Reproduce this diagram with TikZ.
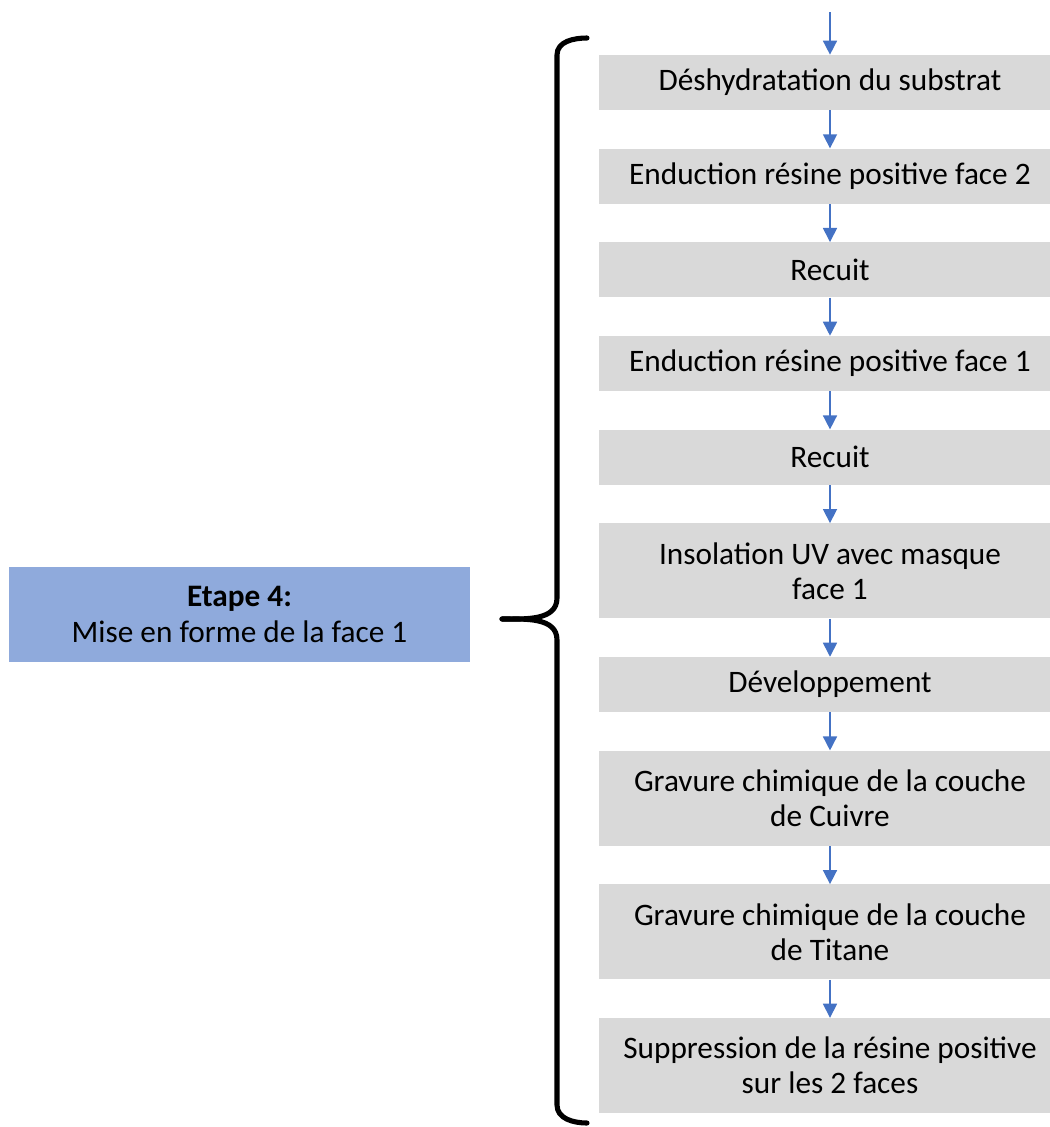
\documentclass[tikz,border=0pt]{standalone}
\usepackage{fontspec}
\setmainfont{Carlito}
\usetikzlibrary{arrows.meta, positioning}
\definecolor{stepgray}{HTML}{D9D9D9}
\definecolor{stepblue}{HTML}{8FAADC}
\definecolor{flowblue}{HTML}{4472C4}
\tikzset{
  x=0.02cm, y=-0.02cm, % one unit is one pixel of the page
  node distance=0.76cm, % gap between two steps
  flow/.style={draw=flowblue, line width=0.9pt,
    -{Triangle[width=8pt, length=8pt]}}, % blue step arrows
  bracket/.style={line width=2.9pt, line cap=round, line join=round},
}

\begin{document}
\begin{tikzpicture}[font=\fontsize{17.8}{20}\selectfont,
    stepbox/.style={fill=stepgray, minimum width=9.24cm, minimum height=1.1cm,
      align=center, inner sep=1pt},
    twoline/.style={stepbox, minimum height=1.9cm},
    etape/.style={fill=stepblue, minimum width=9.22cm, minimum height=1.9cm,
      align=center}]
  \clip (0,0) rectangle (1050,1127);

  \coordinate (start) at (830,12);
  \node[stepbox] (dehyd) at (830,82.5) {Déshydratation du substrat};
  \node[stepbox, below=of dehyd] (enda) {Enduction résine positive face 2};
  \node[stepbox, below=of enda] (recuita) {Recuit};
  \node[stepbox, below=of recuita] (endb) {Enduction résine positive face 1};
  \node[stepbox, below=of endb] (recuitb) {Recuit};
  \node[twoline, below=of recuitb] (insol) {Insolation UV avec masque\\face 1};
  \node[stepbox, below=of insol] (dev) {Développement};
  \node[twoline, below=of dev] (gravcu) {Gravure chimique de la couche\\de Cuivre};
  \node[twoline, below=of gravcu] (gravti) {Gravure chimique de la couche\\de Titane};
  \node[twoline, below=of gravti] (supp) {Suppression de la résine positive\\sur les 2 faces};

  \draw[flow] (start) -- (dehyd);
  \draw[flow] (dehyd) -- (enda);
  \draw[flow] (enda) -- (recuita);
  \draw[flow] (recuita) -- (endb);
  \draw[flow] (endb) -- (recuitb);
  \draw[flow] (recuitb) -- (insol);
  \draw[flow] (insol) -- (dev);
  \draw[flow] (dev) -- (gravcu);
  \draw[flow] (gravcu) -- (gravti);
  \draw[flow] (gravti) -- (supp);

  \node[etape] (step4) at (239.5,614.5) {\textbf{Etape 4:}\\Mise en forme de la face 1};

  % the curly bracket
  \coordinate (tip) at (502,619);
  \draw[bracket] (587,38) to[out=180,in=90] (557,55) -- (557,598)
    to[out=-90,in=0] (tip);
  \draw[bracket] (tip) to[out=0,in=90] (557,640) -- (557,1105)
    to[out=-90,in=180] (587,1123);
\end{tikzpicture}
\end{document}
